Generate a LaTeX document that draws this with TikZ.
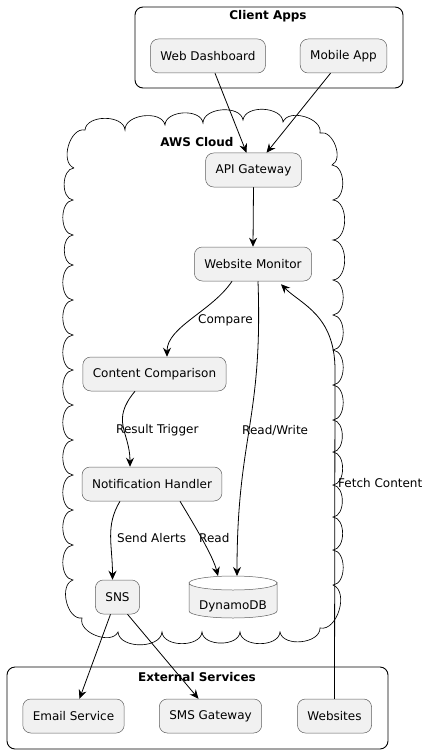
\documentclass[tikz,border=0pt]{standalone}
\usepackage{fontspec}
\setmainfont{DejaVu Sans}
\usetikzlibrary{arrows.meta}
\definecolor{nodefill}{HTML}{F1F1F1}
\definecolor{nodeline}{HTML}{5F5F5F}
\tikzset{
  comp/.style={draw=nodeline, line width=0.5pt, fill=nodefill, rounded corners=8pt,
    minimum height=34pt, inner xsep=10pt, font=\fontsize{12}{14}\selectfont},
  grp/.style={draw=black, line width=0.9pt, rounded corners=8pt},
  grptitle/.style={font=\bfseries\fontsize{12}{14}\selectfont},
  conn/.style={draw=black, line width=0.8pt, -{Stealth[length=9pt,width=8pt,inset=3pt]}},
  lbl/.style={font=\fontsize{12}{14}\selectfont, anchor=west, inner sep=0pt},
  bl/.style={bend left=85},
}
\begin{document}
\begin{tikzpicture}[x=1pt,y=-1pt]
\useasboundingbox (0,0) rectangle (427,754);
% Client Apps
\draw[grp] (135,7) rectangle (403,88);
\node[grptitle] (catitle) at (268,16) {Client Apps};
\node[comp] (web) at (208,56) {Web Dashboard};
\node[comp] (mob) at (343.5,56) {Mobile App};
% Cloud
\draw[line width=0.65pt] (74,168) to[bl] (85,130) to[bl] (125,130) to[bl] (165,125)
  to[bl] (203,123) to[bl] (243,120) to[bl] (283,122) to[bl] (320,133)
  to[bl] (332,165) to[bl] (333,200) to[bl] (333,240) to[bl] (333,280)
  to[bl] (333,315) to[bl] (333,350) to[bl] (333,385) to[bl] (333,420)
  to[bl] (333,452) to[bl] (333,485) to[bl] (333,517) to[bl] (333,550)
  to[bl] (333,585) to[bl] (320,628) to[bl] (280,632) to[bl] (240,632)
  to[bl] (202,632) to[bl] (162,632) to[bl] (118,632)
  to[bl] (82,618) to[bl] (73,580) to[bl] (73,545) to[bl] (73,510)
  to[bl] (73,475) to[bl] (73,440) to[bl] (73,405) to[bl] (73,370)
  to[bl] (73,335) to[bl] (73,300) to[bl] (73,265) to[bl] (73,235)
  to[bl] (73,200) to[bl] (74,168);
\node[grptitle] (awstitle) at (197,142) {AWS Cloud};
\node[comp] (api) at (253.5,170) {API Gateway};
\node[comp] (wm) at (253,264) {Website Monitor};
\node[comp] (cc) at (154.5,374) {Content Comparison};
\node[comp] (nh) at (152,484) {Notification Handler};
\node[comp] (sns) at (117.5,597) {SNS};
% DynamoDB
\node[minimum width=88pt, minimum height=42pt, inner sep=0pt] (db) at (233,597) {};
\draw[draw=nodeline, line width=0.5pt, fill=nodefill]
  (189,583) arc[start angle=180, end angle=360, x radius=44, y radius=-7]
  -- (277,611) arc[start angle=0, end angle=-180, x radius=44, y radius=-7] -- cycle;
\draw[draw=nodeline, line width=0.5pt] (189,583) arc[start angle=180, end angle=0, x radius=44, y radius=-7];
\node[font=\fontsize{12}{14}\selectfont] (dbtext) at (233,606) {DynamoDB};
% External services
\draw[grp] (7,667) rectangle (388,749);
\node[grptitle] (extitle) at (197,677) {External Services};
\node[comp] (email) at (73.5,716) {Email Service};
\node[comp] (sms) at (210.5,716) {SMS Gateway};
\node[comp] (ws) at (334.5,716) {Websites};
% connectors
\draw[conn] ([xshift=7pt]web.south) -- ([xshift=-7pt]api.north);
\draw[conn] ([xshift=-13pt]mob.south) -- ([xshift=13pt]api.north);
\draw[conn] (api.south) -- (wm.north);
\draw[conn] ([xshift=-21pt]wm.south) .. controls +(-20,30) and +(0,-30) .. ([xshift=12.5pt]cc.north);
\node[lbl] (lcmp) at (198,320) {Compare};
\draw[conn] ([xshift=-19.5pt]cc.south) .. controls +(-25,30) and +(0,-35) .. ([xshift=-22pt]nh.north);
\node[lbl] (lrt) at (116,430) {Result Trigger};
\draw[conn] ([xshift=5pt]wm.south) .. controls +(5,140) and +(0,-140) .. ([xshift=4pt,yshift=21pt]db.center);
\node[lbl] (lrw) at (242,430) {Read/Write};
\draw[conn] ([xshift=-32pt]nh.south) .. controls +(-15,25) and +(0,-35) .. ([xshift=-5pt]sns.north);
\node[lbl] (lsa) at (117,538) {Send Alerts};
\draw[conn] ([xshift=28pt]nh.south) .. controls +(15,25) and +(-5,-20) .. ([xshift=-15pt,yshift=21pt]db.center);
\node[lbl] (lrd) at (199,538) {Read};
\draw[conn] ([xshift=-7pt]sns.south) -- ([xshift=6pt]email.north);
\draw[conn] ([xshift=10pt]sns.south) -- ([xshift=-12pt]sms.north);
\coordinate (fbend) at (335,370);
\draw[conn] (ws.north) -- (fbend) .. controls +(0,-55) and +(20,20) .. ([xshift=28pt,yshift=-3pt]wm.south);
\node[lbl] (lfc) at (338,483) {Fetch Content};
\end{tikzpicture}
\end{document}
